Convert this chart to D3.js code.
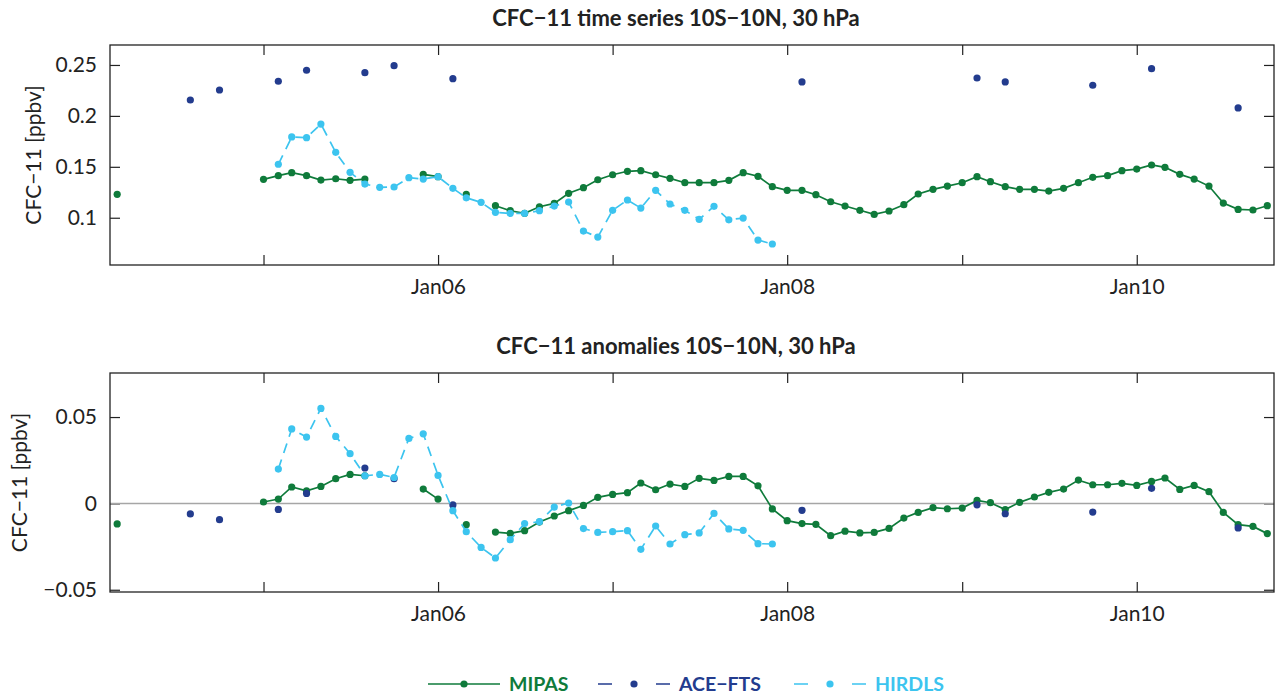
<!DOCTYPE html>
<html><head><meta charset="utf-8">
<script src="https://cdn.jsdelivr.net/npm/d3@7"></script>
<style>body{margin:0;background:#fff} svg{display:block}</style>
</head><body><svg id="c" width="1279" height="698"></svg>
<script>
// ---------- data ----------
const startMonth = "2004-03"; // first month of MIPAS arrays (monthly, null = missing)
const mipasSeries = [
  0.123, null, null, null, null, null, null, null, null, null,
  0.1377, 0.1413, 0.1442, 0.1413, 0.137, 0.1383, 0.1367, 0.138, null, null, null, 0.1426,
  0.1403, null, 0.123, null, 0.1118, 0.1069, 0.1043, 0.1108, 0.1141, 0.124, 0.1295, 0.1373,
  0.1422, 0.1456, 0.1462, 0.1422, 0.1387, 0.1344, 0.1344, 0.1344, 0.1367, 0.1442, 0.1407, 0.1305,
  0.1269, 0.1269, 0.1226, 0.1157, 0.1115, 0.1073, 0.1033, 0.1066, 0.1128, 0.1233, 0.1279, 0.1311,
  0.1344, 0.1403, 0.1354, 0.1305, 0.1279, 0.1279, 0.1262, 0.1289, 0.1344, 0.1397, 0.1413, 0.1462,
  0.1478, 0.1518, 0.1495, 0.1426, 0.138, 0.1311, 0.1144, 0.1082, 0.1076, 0.1118
];
const mipasAnom = [
  -0.0119, null, null, null, null, null, null, null, null, null,
  0.0008, 0.0025, 0.0095, 0.0073, 0.0098, 0.0143, 0.0168, 0.016, null, null, null, 0.0083,
  0.0025, null, -0.0123, null, -0.0166, -0.0174, -0.0158, -0.0108, -0.0073, -0.0042, -0.0012, 0.0035,
  0.0052, 0.0062, 0.0118, 0.0079, 0.0112, 0.0098, 0.0145, 0.0133, 0.0156, 0.0156, 0.0102, -0.0032,
  -0.01, -0.0117, -0.0121, -0.0187, -0.0161, -0.0171, -0.0168, -0.0145, -0.0085, -0.0052, -0.0025, -0.0031,
  -0.0027, 0.0017, 0.0004, -0.0036, 0.0006, 0.0037, 0.0064, 0.0083, 0.0135, 0.0108, 0.0108, 0.0116,
  0.0104, 0.0127, 0.0147, 0.0081, 0.0104, 0.0068, -0.0052, -0.0123, -0.0133, -0.0175
];
const aceMonths = ["2004-08","2004-10","2005-02","2005-04","2005-08","2005-10","2006-02",
                   "2008-02","2009-02","2009-04","2009-10","2010-02","2010-08"];
const aceSeries = [0.2156, 0.2254, 0.234, 0.2448, 0.2424, 0.2493, 0.2365,
                   0.2333, 0.2372, 0.2333, 0.2301, 0.2464, 0.2078];
const aceAnom = [-0.0061, -0.0094, -0.0035, 0.0058, 0.0205, 0.0143, -0.0009,
                 -0.004, -0.0008, -0.006, -0.005, 0.0087, -0.0142];
const hirdlsStart = "2005-02";
const hirdlsSeries = [
  0.1525, 0.1793, 0.1786, 0.192, 0.1642, 0.1446, 0.1331, 0.1299, 0.1302, 0.1393, 0.138,
  0.1403, 0.1289, 0.1196, 0.1151, 0.1053, 0.1043, 0.1043, 0.1069, 0.1115, 0.1154, 0.0869, 0.081,
  0.1073, 0.1174, 0.1095, 0.1269, 0.1135, 0.1073, 0.0984, 0.1112, 0.098, 0.0997, 0.0781, 0.0742
];
const hirdlsAnom = [
  0.0199, 0.0431, 0.0384, 0.055, 0.0388, 0.0288, 0.016, 0.0168, 0.015, 0.0376, 0.0403,
  0.0162, -0.0042, -0.0164, -0.0255, -0.0316, -0.021, -0.0117, -0.0106, -0.0021, 0.0002, -0.0146, -0.0168,
  -0.0164, -0.0158, -0.0266, -0.0131, -0.0235, -0.0181, -0.0171, -0.0058, -0.0148, -0.0156, -0.0233, -0.0235
];
const xDomain = ["2004-02-15", "2010-10-15"];
const xTickYears = [2005, 2006, 2007, 2008, 2009, 2010];
const xTickLabels = ["", "Jan06", "", "Jan08", "", "Jan10"];
const yDomainTop = [0.0536, 0.2696];
const yTicksTop = [0.1, 0.15, 0.2, 0.25];
const yTickLabelsTop = ["0.1", "0.15", "0.2", "0.25"];
const yDomainBot = [-0.0513, 0.0755];
const yTicksBot = [-0.05, 0, 0.05];
const yTickLabelsBot = ["\u22120.05", "0", "0.05"];
const titles = ["CFC\u221211 time series 10S\u221210N, 30 hPa", "CFC\u221211 anomalies 10S\u221210N, 30 hPa"];
const yLabel = "CFC\u221211 [ppbv]";
const seriesNames = ["MIPAS", "ACE\u2212FTS", "HIRDLS"];

// ---------- styling ----------
const colors = {MIPAS: "#0f7b3b", ACE: "#233c8e", HIRDLS: "#3cc4ef"};
const FONT = "Lato, 'Open Sans', sans-serif";
const svg = d3.select("#c");
const parseM = d3.timeParse("%Y-%m");
const parseD = d3.timeParse("%Y-%m-%d");
const L = 110, R = 1274;
const x = d3.scaleTime().domain(xDomain.map(parseD)).range([L, R]);

const mipasDates = mipasSeries.map((_, i) => d3.timeMonth.offset(parseM(startMonth), i));
const hirdlsDates = hirdlsSeries.map((_, i) => d3.timeMonth.offset(parseM(hirdlsStart), i));
const aceDates = aceMonths.map(parseM);

function panel(id, top, bottom, yDomain, yTicks, yTickLabels, title, mip, ace, hir, zeroLine, ylabX) {
  const y = d3.scaleLinear().domain(yDomain).range([bottom, top]);
  const g = svg.append("g");
  g.append("clipPath").attr("id", "clip" + id).append("rect")
    .attr("x", L).attr("y", top).attr("width", R - L).attr("height", bottom - top);

  // title
  g.append("text").attr("x", 676).attr("y", top - 19).attr("text-anchor", "middle")
    .attr("font-family", FONT).attr("font-weight", "bold").attr("font-size", 22)
    .attr("fill", "#222").text(title);

  const yearDates = xTickYears.map(yr => new Date(yr, 0, 1));
  const ax = (a) => a.tickSizeOuter(0);
  const gb = g.append("g").attr("transform", `translate(0,${bottom})`)
    .call(ax(d3.axisBottom(x).tickValues(yearDates).tickSize(-10).tickPadding(14)
      .tickFormat((d, i) => xTickLabels[i])));
  const gt = g.append("g").attr("transform", `translate(0,${top})`)
    .call(ax(d3.axisTop(x).tickValues(yearDates).tickSize(-10).tickFormat("")));
  const gl = g.append("g").attr("transform", `translate(${L},0)`)
    .call(ax(d3.axisLeft(y).tickValues(yTicks).tickSize(-10).tickPadding(13)
      .tickFormat((d, i) => yTickLabels[i])));
  const gr = g.append("g").attr("transform", `translate(${R},0)`)
    .call(ax(d3.axisRight(y).tickValues(yTicks).tickSize(-10).tickFormat("")));
  [gb, gt, gl, gr].forEach(a => {
    a.select(".domain").remove();
    a.selectAll(".tick line").attr("stroke", "#222").attr("stroke-width", 1.2);
    a.selectAll(".tick text").attr("font-family", FONT).attr("font-size", 21).attr("fill", "#222");
  });

  const plot = g.append("g").attr("clip-path", `url(#clip${id})`);
  if (zeroLine) {
    plot.append("line").attr("x1", L).attr("x2", R).attr("y1", y(0)).attr("y2", y(0))
      .attr("stroke", "#a6a6a6").attr("stroke-width", 1.5);
  }
  const line = d3.line().defined(d => d[1] != null).x(d => x(d[0])).y(d => y(d[1]));

  // MIPAS
  const mData = mipasDates.map((d, i) => [d, mip[i]]);
  plot.append("path").attr("d", line(mData)).attr("fill", "none")
    .attr("stroke", colors.MIPAS).attr("stroke-width", 1.7);
  plot.selectAll(null).data(mData.filter(d => d[1] != null)).join("circle")
    .attr("cx", d => x(d[0])).attr("cy", d => y(d[1])).attr("r", 3.6).attr("fill", colors.MIPAS);

  // ACE-FTS
  const aData = aceDates.map((d, i) => [d, ace[i]]);
  plot.selectAll(null).data(aData).join("circle")
    .attr("cx", d => x(d[0])).attr("cy", d => y(d[1])).attr("r", 3.6).attr("fill", colors.ACE);

  // HIRDLS
  const hData = hirdlsDates.map((d, i) => [d, hir[i]]);
  plot.append("path").attr("d", line(hData)).attr("fill", "none")
    .attr("stroke", colors.HIRDLS).attr("stroke-width", 1.7).attr("stroke-dasharray", "10,7");
  plot.selectAll(null).data(hData.filter(d => d[1] != null)).join("circle")
    .attr("cx", d => x(d[0])).attr("cy", d => y(d[1])).attr("r", 3.6).attr("fill", colors.HIRDLS);

  // frame
  g.append("rect").attr("x", L).attr("y", top).attr("width", R - L).attr("height", bottom - top)
    .attr("fill", "none").attr("stroke", "#222").attr("stroke-width", 1.3);

  // y label
  g.append("text").attr("transform", `translate(${ylabX},${(top + bottom) / 2}) rotate(-90)`)
    .attr("text-anchor", "middle").attr("font-family", FONT).attr("font-size", 21)
    .attr("fill", "#222").text(yLabel);
}

panel("t", 45, 265, yDomainTop, yTicksTop, yTickLabelsTop, titles[0], mipasSeries, aceSeries, hirdlsSeries, false, 41);
panel("b", 373, 592, yDomainBot, yTicksBot, yTickLabelsBot, titles[1], mipasAnom, aceAnom, hirdlsAnom, true, 27);

// ---------- legend ----------
const legY = 684;
const legItems = [
  {name: seriesNames[0], color: colors.MIPAS, x0: 428, dashed: false},
  {name: seriesNames[1], color: colors.ACE, x0: 598, dashed: true},
  {name: seriesNames[2], color: colors.HIRDLS, x0: 794, dashed: true}
];
const lg = svg.append("g");
legItems.forEach(it => {
  lg.append("line").attr("x1", it.x0).attr("x2", it.x0 + 72).attr("y1", legY).attr("y2", legY)
    .attr("stroke", it.color).attr("stroke-width", 1.7)
    .attr("stroke-dasharray", it.dashed ? "14,44" : null);
  lg.append("circle").attr("cx", it.x0 + 36).attr("cy", legY).attr("r", 3.6).attr("fill", it.color);
  lg.append("text").attr("x", it.x0 + 81).attr("y", legY + 7)
    .attr("font-family", FONT).attr("font-weight", "bold").attr("font-size", 19.5)
    .attr("fill", it.color).text(it.name);
});
</script></body></html>
